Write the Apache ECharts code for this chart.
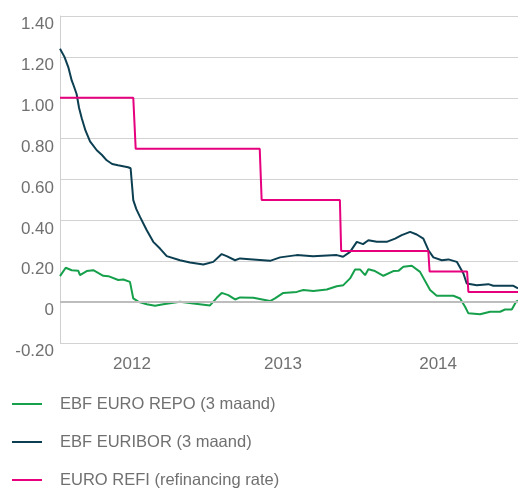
<!DOCTYPE html>
<html lang="nl">
<head>
    <meta charset="UTF-8">
    <title>Rentes</title>
    <script src="https://cdn.jsdelivr.net/npm/echarts@6/dist/echarts.min.js"></script>
    <style>
        html, body { margin: 0; padding: 0; background: #fff; }
    </style>
</head>
<body>
<div id="chart" style="width: 518px;height:488px;"></div>

<script type="text/javascript">
    // x = months since start of 2012
    var yearTicks = [5.66, 17.53, 29.72];
    var yearLabels = ['2012', '2013', '2014'];

    var repoMonths = [0, 0.45, 0.92, 1.44, 1.57, 2.1, 2.62, 3.4, 3.8, 4.58, 4.98, 5.5, 5.76, 6.16, 6.82, 7.47, 8.12, 9.43,
        10.48, 11.79, 12.32, 12.71, 13.23, 13.76, 14.15, 15.2, 16.51, 16.9, 17.55, 18.61, 19.13, 19.91, 20.97, 21.75,
        22.27, 22.8, 23.19, 23.58, 23.98, 24.24, 24.76, 25.42, 26.2, 26.6, 26.99, 27.65, 28.3, 29.09, 29.61, 30.92,
        31.45, 31.84, 32.1, 33.02, 33.81, 34.59, 34.98, 35.51, 35.85, 36];
    var repoValues = [0.127, 0.168, 0.156, 0.153, 0.132, 0.152, 0.156, 0.129, 0.127, 0.108, 0.111, 0.099, 0.018, 0.002,
        -0.01, -0.018, -0.01, 0.002, -0.007, -0.016, 0.021, 0.045, 0.034, 0.013, 0.023, 0.021, 0.005, 0.018, 0.045, 0.05,
        0.059, 0.055, 0.062, 0.078, 0.083, 0.116, 0.16, 0.16, 0.132, 0.161, 0.152, 0.129, 0.152, 0.153, 0.173, 0.178,
        0.148, 0.059, 0.031, 0.031, 0.018, -0.023, -0.055, -0.059, -0.047, -0.047, -0.036, -0.036, 0.002, 0.007];

    var euriborMonths = [0, 0.35, 0.65, 0.92, 1.1, 1.31, 1.5, 1.71, 2.0, 2.36, 2.89, 3.3, 3.67, 4.1, 4.56, 5.35, 5.55,
        5.76, 6.0, 6.29, 6.82, 7.33, 7.86, 8.39, 9.43, 10.22, 11.27, 12.05, 12.71, 13.1, 13.76, 14.15, 15.17, 16.51, 17.3,
        18.61, 19.89, 21.75, 22.25, 22.8, 23.33, 23.82, 24.24, 24.9, 25.68, 26.34, 26.86, 27.52, 28.04, 28.56, 28.96,
        29.35, 30.01, 30.53, 31.19, 31.71, 31.97, 32.76, 33.67, 34.06, 35.64, 36];
    var euriborValues = [1.24, 1.2, 1.15, 1.085, 1.055, 1.017, 0.95, 0.9, 0.84, 0.787, 0.743, 0.72, 0.694, 0.676, 0.67,
        0.66, 0.655, 0.499, 0.455, 0.417, 0.352, 0.295, 0.262, 0.225, 0.205, 0.194, 0.184, 0.197, 0.235, 0.225, 0.205,
        0.214, 0.209, 0.202, 0.219, 0.23, 0.225, 0.23, 0.222, 0.246, 0.295, 0.284, 0.303, 0.295, 0.295, 0.311, 0.328,
        0.344, 0.331, 0.311, 0.254, 0.219, 0.205, 0.209, 0.197, 0.14, 0.091, 0.083, 0.088, 0.08, 0.08, 0.067];

    var refiMonths = [0, 5.76, 5.95, 15.7, 15.85, 22.0, 22.1, 28.95, 29.05, 32.0, 32.1, 36];
    var refiValues = [1.0, 1.0, 0.75, 0.75, 0.5, 0.5, 0.25, 0.25, 0.15, 0.15, 0.05, 0.05];

    function pairs(xs, ys) {
        var out = [];
        for (var i = 0; i < xs.length; i++) {
            out.push([xs[i], ys[i]]);
        }
        return out;
    }

    var textGrey = '#707070';
    var myChart = echarts.init(document.getElementById('chart'));

    var option = {
        animation: false,
        textStyle: {
            fontFamily: 'Liberation Sans, Arial, sans-serif'
        },
        grid: {
            left: 60,
            right: 0,
            top: 16,
            bottom: 145
        },
        legend: {
            orient: 'vertical',
            left: 12,
            top: 395,
            height: 110,
            padding: 0,
            itemWidth: 30,
            itemHeight: 2,
            itemGap: 20,
            icon: 'rect',
            textStyle: {
                color: textGrey,
                fontSize: 16.5,
                lineHeight: 18,
                padding: [0, 0, 0, 13]
            },
            data: ['EBF EURO REPO (3 maand)', 'EBF EURIBOR (3 maand)', 'EURO REFI (refinancing rate)']
        },
        xAxis: {
            type: 'value',
            min: 0,
            max: 36,
            axisLine: {show: false},
            axisTick: {show: false},
            splitLine: {show: false},
            axisLabel: {
                customValues: yearTicks,
                color: textGrey,
                fontSize: 17,
                margin: 13,
                formatter: function (v) {
                    for (var i = 0; i < yearTicks.length; i++) {
                        if (Math.abs(yearTicks[i] - v) < 0.01) return yearLabels[i];
                    }
                    return '';
                }
            }
        },
        yAxis: {
            type: 'value',
            min: -0.2,
            max: 1.4,
            interval: 0.2,
            axisLine: {show: true, lineStyle: {color: '#cfcfcf', width: 1}},
            axisTick: {show: false},
            splitLine: {lineStyle: {color: '#d2d2d2', width: 1}},
            axisLabel: {
                color: textGrey,
                fontSize: 17,
                margin: 6,
                verticalAlign: 'top',
                formatter: function (v) {
                    return Math.abs(v) < 1e-9 ? '0' : v.toFixed(2);
                }
            }
        },
        series: [
            {
                name: 'EBF EURO REPO (3 maand)',
                type: 'line',
                showSymbol: false,
                color: '#16a04b',
                lineStyle: {width: 2},
                data: pairs(repoMonths, repoValues),
                markLine: {
                    silent: true,
                    symbol: 'none',
                    label: {show: false},
                    lineStyle: {color: '#bdbdbd', width: 2, type: 'solid'},
                    data: [{yAxis: 0}]
                },
                z: 3
            },
            {
                name: 'EBF EURIBOR (3 maand)',
                type: 'line',
                showSymbol: false,
                color: '#0c3f51',
                lineStyle: {width: 2},
                data: pairs(euriborMonths, euriborValues),
                z: 4
            },
            {
                name: 'EURO REFI (refinancing rate)',
                type: 'line',
                showSymbol: false,
                color: '#e6007e',
                lineStyle: {width: 2},
                data: pairs(refiMonths, refiValues),
                z: 5
            }
        ]
    };

    myChart.setOption(option);
</script>
</body>
</html>
